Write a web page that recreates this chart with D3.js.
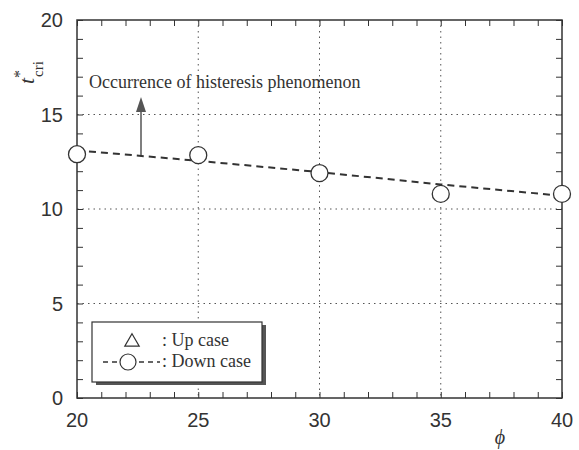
<!DOCTYPE html>
<html>
<head>
<meta charset="utf-8">
<script src="https://cdn.jsdelivr.net/npm/d3@7"></script>
<style>
body { margin: 0; background: #fff; }
</style>
</head>
<body>
<div id="chart"></div>
<script>
// data
const phi = [20, 25, 30, 35, 40];
const downCase = [12.9, 12.85, 11.9, 10.8, 10.8];
const fitPhi = [20, 25, 30, 35, 40];
const fitLine = [13.1, 12.55, 11.95, 11.3, 10.7];
const xTicks = [20, 25, 30, 35, 40];
const yTicks = [0, 5, 10, 15, 20];

const W = 579, H = 450;
const plotL = 77, plotR = 562, plotT = 20, plotB = 398;

const svg = d3.select('#chart').append('svg')
	.attr('width', W)
	.attr('height', H);

const x = d3.scaleLinear().domain([20, 40]).range([plotL, plotR]);
const y = d3.scaleLinear().domain([0, 20]).range([plotB, plotT]);

const ink = '#333';
const serif = '"Liberation Serif", "Times New Roman", serif';

// dotted grid
svg.append('g').selectAll('line')
	.data(xTicks.slice(1, -1))
	.join('line')
	.attr('x1', d => x(d)).attr('x2', d => x(d))
	.attr('y1', plotT).attr('y2', plotB)
	.style('stroke', '#555')
	.style('stroke-width', '1px')
	.style('stroke-dasharray', '1.5,4');

svg.append('g').selectAll('line')
	.data(yTicks.slice(1, -1))
	.join('line')
	.attr('x1', plotL).attr('x2', plotR)
	.attr('y1', d => y(d)).attr('y2', d => y(d))
	.style('stroke', '#555')
	.style('stroke-width', '1px')
	.style('stroke-dasharray', '1.5,4');

// axes with inward ticks on all four sides
const minorX = d3.range(20, 41, 1);
const minorY = d3.range(0, 21, 1);

function styleAxis(g) {
	g.select('.domain').remove();
	g.selectAll('line').style('stroke', ink).style('stroke-width', '1px');
	g.selectAll('text').remove();
}

svg.append('g')
	.attr('transform', 'translate(0,' + plotB + ')')
	.call(d3.axisTop(x).tickValues(minorX).tickSize(6))
	.call(styleAxis);
svg.append('g')
	.attr('transform', 'translate(0,' + plotT + ')')
	.call(d3.axisBottom(x).tickValues(minorX).tickSize(6))
	.call(styleAxis);
svg.append('g')
	.attr('transform', 'translate(' + plotL + ',0)')
	.call(d3.axisRight(y).tickValues(minorY).tickSize(6))
	.call(styleAxis);
svg.append('g')
	.attr('transform', 'translate(' + plotR + ',0)')
	.call(d3.axisLeft(y).tickValues(minorY).tickSize(6))
	.call(styleAxis);

svg.append('rect')
	.attr('x', plotL).attr('y', plotT)
	.attr('width', plotR - plotL).attr('height', plotB - plotT)
	.style('fill', 'none')
	.style('stroke', ink)
	.style('stroke-width', '1.5px');

// tick labels
const tickFont = '"Liberation Sans Narrow", "Liberation Sans", Arial, sans-serif';

svg.append('g').selectAll('text')
	.data(xTicks)
	.join('text')
	.attr('x', d => x(d))
	.attr('y', 427)
	.attr('text-anchor', 'middle')
	.style('font-family', tickFont)
	.style('font-size', '20px')
	.style('fill', ink)
	.text(d => d);

svg.append('g').selectAll('text')
	.data(yTicks)
	.join('text')
	.attr('x', 63)
	.attr('y', d => y(d) + 7)
	.attr('text-anchor', 'end')
	.style('font-family', tickFont)
	.style('font-size', '20px')
	.style('fill', ink)
	.text(d => d);

// axis titles
const yTitle = svg.append('text')
	.attr('transform', 'translate(34,84) rotate(-90)')
	.style('font-family', serif)
	.style('font-size', '22px')
	.style('fill', ink);
yTitle.append('tspan').style('font-style', 'italic').text('t');
yTitle.append('tspan').attr('dy', -9).style('font-size', '16px').text('*');
yTitle.append('tspan').attr('dx', -7).attr('dy', 18).style('font-size', '15px').text('cri');

svg.append('text')
	.attr('x', 500)
	.attr('y', 444)
	.attr('text-anchor', 'middle')
	.style('font-family', serif)
	.style('font-style', 'italic')
	.style('font-size', '20px')
	.style('fill', ink)
	.text('ϕ');

// fitted dashed line
const line = d3.line()
	.x((d, i) => x(fitPhi[i]))
	.y(d => y(d));

svg.append('path')
	.datum(fitLine)
	.attr('d', line)
	.style('fill', 'none')
	.style('stroke', ink)
	.style('stroke-width', '2px')
	.style('stroke-dasharray', '7,5');

// down case markers
svg.append('g').selectAll('circle')
	.data(downCase)
	.join('circle')
	.attr('cx', (d, i) => x(phi[i]))
	.attr('cy', d => y(d))
	.attr('r', 8.5)
	.style('fill', '#fff')
	.style('stroke', ink)
	.style('stroke-width', '1.3px');

// annotation
svg.append('line')
	.attr('x1', 141).attr('x2', 141)
	.attr('y1', 155).attr('y2', 108)
	.style('stroke', '#555')
	.style('stroke-width', '1.5px');
svg.append('path')
	.attr('d', 'M141,97 L136,112 L146,112 Z')
	.style('fill', '#555');

svg.append('text')
	.attr('x', 89)
	.attr('y', 88)
	.style('font-family', serif)
	.style('font-size', '18px')
	.style('fill', ink)
	.text('Occurrence of histeresis phenomenon');

// legend with shadow
const lg = svg.append('g');
lg.append('rect')
	.attr('x', 96).attr('y', 325)
	.attr('width', 170).attr('height', 60)
	.style('fill', '#555');
lg.append('rect')
	.attr('x', 92).attr('y', 322)
	.attr('width', 170).attr('height', 60)
	.style('fill', '#fff')
	.style('stroke', ink)
	.style('stroke-width', '1.2px');

lg.append('path')
	.attr('d', d3.symbol(d3.symbolTriangle, 90)())
	.attr('transform', 'translate(132,342)')
	.style('fill', '#fff')
	.style('stroke', ink)
	.style('stroke-width', '1.2px');

lg.append('line')
	.attr('x1', 103).attr('x2', 160)
	.attr('y1', 362).attr('y2', 362)
	.style('stroke', ink)
	.style('stroke-width', '1.5px')
	.style('stroke-dasharray', '5,4');
lg.append('circle')
	.attr('cx', 128).attr('cy', 362)
	.attr('r', 8)
	.style('fill', '#fff')
	.style('stroke', ink)
	.style('stroke-width', '1.2px');

lg.selectAll('text.lab')
	.data([': Up case', ': Down case'])
	.join('text')
	.attr('class', 'lab')
	.attr('x', 162)
	.attr('y', (d, i) => 346 + i * 21)
	.style('font-family', serif)
	.style('font-size', '18px')
	.style('fill', ink)
	.text(d => d);
</script>
</body>
</html>
